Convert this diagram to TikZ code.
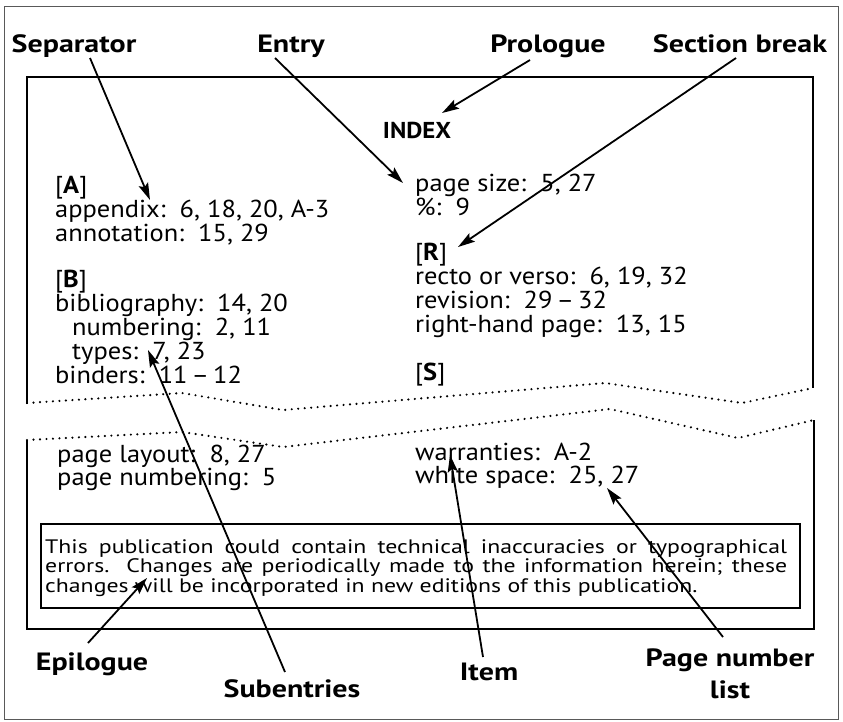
\documentclass[tikz,border=0pt]{standalone}
\usepackage{fontspec}
\setmainfont{PT Sans}[FakeStretch=1.08]
\newfontfamily\lblfont{PT Sans}[FakeStretch=1.2]
\newfontfamily\noticefont{PT Sans}[FakeStretch=1.22]
\usetikzlibrary{arrows.meta}
\begin{document}
\begin{tikzpicture}[x=1pt,y=-1pt,
  lbl/.style={font=\lblfont\bfseries\fontsize{25}{27}\selectfont, inner sep=0pt, anchor=base},
  body/.style={font=\fontsize{24.5}{26}\selectfont, inner sep=0pt, anchor=base west},
  frame/.style={line width=1.9pt},
  brk/.style={line width=2.4pt, line cap=round, dash pattern=on 0pt off 6.5pt},
  arr/.style={line width=1.8pt, -{Stealth[length=17pt,width=10pt,inset=3pt]}},
]
\useasboundingbox (0,0) rectangle (843,721);

% outer frame
\draw[line width=1pt, black!65] (4,6) rectangle (838,719);

% upper page: open at the bottom, cut by a broken line
\draw[frame] (27,404) -- (27,77) -- (813,77) -- (813,388);
\draw[brk] (27,403) -- (182,393) -- (283,410) -- (605,383) -- (742,403) -- (813,388);

% lower page: open at the top
\draw[brk] (27,440) -- (182,432) -- (283,447) -- (610,409) -- (738,438) -- (814,420);
\draw[frame] (27,440) -- (27,629) -- (814,629) -- (814,420);

% heading
\node[font=\fontsize{23}{26}\selectfont\bfseries, inner sep=0pt, anchor=base] (index) at (417,138) {INDEX};

% left column
\node[body] (secA)  at (55,193) {[\textbf{A}]};
\node[body] (appx)  at (55,217) {appendix:\ \ 6, 18, 20, A-3};
\node[body] (annot) at (55,241) {annotation:\ \ 15, 29};
\node[body] (secB)  at (55,287) {[\textbf{B}]};
\node[body] (bibl)  at (55,311) {bibliography:\ \ 14, 20};
\node[body] (numb)  at (72,335) {numbering:\ \ 2, 11};
\node[body] (types) at (72,359) {types:\ \ 7, 23};
\node[body] (bind)  at (55,383) {binders:\ \ 11\,--\,12};

% right column
\node[body] (psize) at (415,191) {page size:\ \ 5, 27};
\node[body] (pct)   at (415,215) {\%:\ \ 9};
\node[body] (secR)  at (415,260) {[\textbf{R}]};
\node[body] (recto) at (415,284) {recto or verso:\ \ 6, 19, 32};
\node[body] (revis) at (415,308) {revision:\ \ 29\,--\,32};
\node[body] (rhp)   at (415,332) {right-hand page:\ \ 13, 15};
\node[body] (secS)  at (415,380) {[\textbf{S}]};

% lower page entries
\node[body] (playout) at (57,462) {page layout:\ \ 8, 27};
\node[body] (pnumb)   at (57,485) {page numbering:\ \ 5};
\node[body] (warr)    at (415,460) {warranties:\ \ A-2};
\node[body] (white)   at (415,483) {white space:\ \ 25, 27};

% closing notice
\draw[frame] (41,524) rectangle (800,608);
\node[inner sep=0pt, anchor=base west] (notice) at (45,553) {\parbox[t]{742pt}{%
\noticefont\fontsize{19.5}{19.5}\selectfont\lineskiplimit=-100pt\relax
\makebox[742pt][s]{This publication could contain technical inaccuracies or typographical}\\
\makebox[742pt][s]{errors.\ \ Changes are periodically made to the information herein; these}\\
changes will be incorporated in new editions of this publication.}};

% callout labels
\node[lbl] (lsep) at (74,52)  {Separator};
\node[lbl] (lent) at (291,52) {Entry};
\node[lbl] (lpro) at (548,52) {Prologue};
\node[lbl] (lsec) at (740,52) {Section break};
\node[lbl] (lepi) at (92,670)  {Epilogue};
\node[lbl] (lsub) at (292,697) {Subentries};
\node[lbl] (litm) at (489,680) {Item};
\node[lbl, anchor=center, align=center, font=\lblfont\bfseries\fontsize{25}{32}\selectfont] (lpnl) at (730,674) {Page number\\list};

% callout ends
\coordinate (sepT) at (90,58);   \coordinate (sepH) at (150,200);
\coordinate (entT) at (275,58);  \coordinate (entH) at (403,183);
\coordinate (proT) at (530,60);  \coordinate (proH) at (442,113);
\coordinate (secT) at (736,58);  \coordinate (secH) at (458,247);
\coordinate (epiT) at (88,643);  \coordinate (epiH) at (147,578);
\coordinate (subT) at (285,672); \coordinate (subH) at (148,350);
\coordinate (itmT) at (483,657); \coordinate (itmH) at (450,455);
\coordinate (pnlT) at (723,637); \coordinate (pnlH) at (607,488);

\draw[arr] (sepT) -- (sepH);
\draw[arr] (entT) -- (entH);
\draw[arr] (proT) -- (proH);
\draw[arr] (secT) -- (secH);
\draw[arr] (epiT) -- (epiH);
\draw[arr] (subT) -- (subH);
\draw[arr] (itmT) -- (itmH);
\draw[arr] (pnlT) -- (pnlH);
\end{tikzpicture}
\end{document}
